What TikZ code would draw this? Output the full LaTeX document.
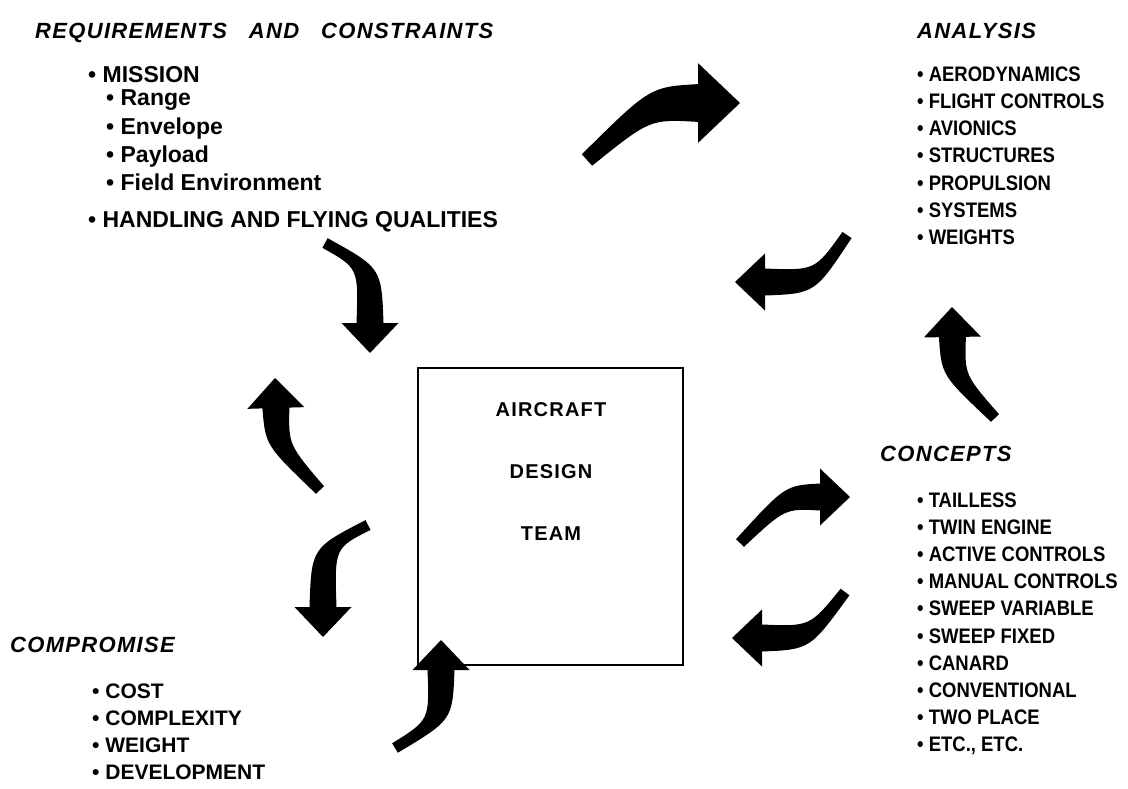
\documentclass[tikz,border=0pt]{standalone}
\usepackage{fontspec}
\setmainfont{Liberation Sans}
\newfontfamily\headfont[LetterSpace=6]{Liberation Sans}
\newfontfamily\listfont[FakeStretch=0.88]{Liberation Sans}
\newfontfamily\teamfont[LetterSpace=6]{Liberation Sans}
\usetikzlibrary{calc}
\usetikzlibrary{positioning}

\tikzset{
  heading/.style={anchor=base west, inner sep=0pt,
    font=\headfont\bfseries\itshape\fontsize{22}{22}\selectfont},
  entry/.style={anchor=base west, inner sep=0pt,
    font=\bfseries\fontsize{23}{23}\selectfont},
  rentry/.style={anchor=base west, inner sep=0pt,
    font=\listfont\bfseries\fontsize{21}{21}\selectfont},
  centry/.style={anchor=base west, inner sep=0pt,
    font=\bfseries\fontsize{21}{21}\selectfont},
  teamtext/.style={align=center,
    font=\teamfont\bfseries\fontsize{20}{24}\selectfont},
}

% tapered curved arrow: [size]{tail}{bend}{tip}
\newcommand{\fatarrow}[4][1]{%
  \pgfmathsetlengthmacro{\arrhl}{#1*30pt}%
  \pgfmathsetlengthmacro{\arrhw}{#1*28.5pt}%
  \pgfmathsetlengthmacro{\arrsw}{#1*13.5pt}%
  \pgfmathsetlengthmacro{\arrcw}{#1*11.5pt}%
  \pgfmathsetlengthmacro{\arrtw}{#1*5.5pt}%
  \coordinate (arrbase) at ($(#4)!\arrhl!(#3)$);
  \fill ($(#2)!\arrtw!90:(#3)$)
    .. controls ($(#3)!\arrcw!90:(arrbase)$) .. ($(arrbase)!\arrsw!90:(#4)$)
    -- ($(arrbase)!\arrhw!90:(#4)$) -- (#4)
    -- ($(arrbase)!\arrhw!-90:(#4)$) -- ($(arrbase)!\arrsw!-90:(#4)$)
    .. controls ($(#3)!\arrcw!-90:(arrbase)$) .. ($(#2)!\arrtw!-90:(#3)$)
    -- cycle;
}

\begin{document}
\begin{tikzpicture}[x=1pt, y=-1pt]
  \useasboundingbox (0,0) rectangle (1128,788);

  % requirements
  \node[heading] (req) at (35,38)
    {REQUIREMENTS\hspace{22pt}AND\hspace{22pt}CONSTRAINTS};
  \node[entry] (mission) at (88,82) {• MISSION};
  \node[entry] (range) at (106,105) {• Range};
  \node[below=29pt of range.base west, entry] (envelope) {• Envelope};
  \node[below=28pt of envelope.base west, entry] (payload) {• Payload};
  \node[below=28pt of payload.base west, entry] (field) {• Field Environment};
  \node[entry] (handling) at (88,227) {• HANDLING AND FLYING QUALITIES};

  % analysis
  \node[heading] (ana) at (917,38) {ANALYSIS};
  \node[rentry] (aero) at (917,81) {• AERODYNAMICS};
  \node[below=27.3pt of aero.base west, rentry] (flctl) {• FLIGHT CONTROLS};
  \node[below=27.3pt of flctl.base west, rentry] (avion) {• AVIONICS};
  \node[below=27.3pt of avion.base west, rentry] (struct) {• STRUCTURES};
  \node[below=27.3pt of struct.base west, rentry] (prop) {• PROPULSION};
  \node[below=27.3pt of prop.base west, rentry] (syst) {• SYSTEMS};
  \node[below=27.3pt of syst.base west, rentry] (wts) {• WEIGHTS};

  % concepts
  \node[heading] (conc) at (880,461) {CONCEPTS};
  \node[rentry] (tailless) at (917,507) {• TAILLESS};
  \node[below=27.2pt of tailless.base west, rentry] (twin) {• TWIN ENGINE};
  \node[below=27.2pt of twin.base west, rentry] (active) {• ACTIVE CONTROLS};
  \node[below=27.2pt of active.base west, rentry] (manual) {• MANUAL CONTROLS};
  \node[below=27.2pt of manual.base west, rentry] (sweepv) {• SWEEP VARIABLE};
  \node[below=27.2pt of sweepv.base west, rentry] (sweepf) {• SWEEP FIXED};
  \node[below=27.2pt of sweepf.base west, rentry] (canard) {• CANARD};
  \node[below=27.2pt of canard.base west, rentry] (conv) {• CONVENTIONAL};
  \node[below=27.2pt of conv.base west, rentry] (twoplace) {• TWO PLACE};
  \node[below=27.2pt of twoplace.base west, rentry] (etc) {• ETC., ETC.};

  % compromise
  \node[heading] (comp) at (10,652) {COMPROMISE};
  \node[centry] (cost) at (92,698) {• COST};
  \node[below=27pt of cost.base west, centry] (cplx) {• COMPLEXITY};
  \node[below=27pt of cplx.base west, centry] (weight) {• WEIGHT};
  \node[below=27pt of weight.base west, centry] (devel) {• DEVELOPMENT};

  % design team
  \node[draw, line width=2.5pt, minimum width=265pt, minimum height=297pt]
    (team) at (550.5,516.5) {};
  \node[teamtext] (teamname) at (551,472) {AIRCRAFT\\[38pt]DESIGN\\[38pt]TEAM};

  % arrows: tail, bend, tip
  \coordinate (a1t) at (587,160); \coordinate (a1c) at (650,103); \coordinate (a1p) at (740,103);
  \coordinate (a2t) at (325,243); \coordinate (a2c) at (370,268); \coordinate (a2p) at (370,353);
  \coordinate (a3t) at (847,235); \coordinate (a3c) at (815,282); \coordinate (a3p) at (735,282);
  \coordinate (a4t) at (320,490); \coordinate (a4c) at (277,445); \coordinate (a4p) at (275,378);
  \coordinate (a5t) at (995,418); \coordinate (a5c) at (953,375); \coordinate (a5p) at (952,307);
  \coordinate (a6t) at (368,525); \coordinate (a6c) at (323,548); \coordinate (a6p) at (323,637);
  \coordinate (a7t) at (740,543); \coordinate (a7c) at (785,497); \coordinate (a7p) at (850,497);
  \coordinate (a8t) at (845,592); \coordinate (a8c) at (810,638); \coordinate (a8p) at (732,638);
  \coordinate (a9t) at (395,748); \coordinate (a9c) at (441,720); \coordinate (a9p) at (441,640);

  \fatarrow[1.4]{a1t}{a1c}{a1p}
  \fatarrow{a2t}{a2c}{a2p}
  \fatarrow{a3t}{a3c}{a3p}
  \fatarrow{a4t}{a4c}{a4p}
  \fatarrow{a5t}{a5c}{a5p}
  \fatarrow{a6t}{a6c}{a6p}
  \fatarrow{a7t}{a7c}{a7p}
  \fatarrow{a8t}{a8c}{a8p}
  \fatarrow{a9t}{a9c}{a9p}
\end{tikzpicture}
\end{document}
